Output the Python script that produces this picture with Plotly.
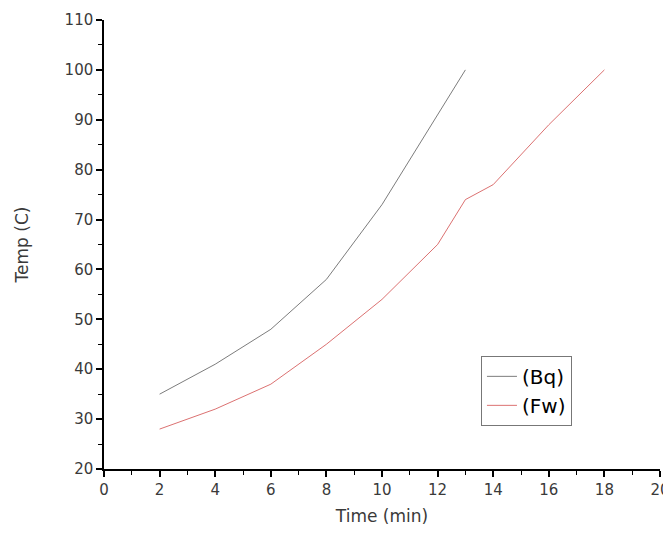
import plotly.graph_objects as go

# time (min) and temperature readings
time_bq = [2, 4, 6, 8, 10, 12, 13]
temp_bq = [35, 41, 48, 58, 73, 91, 100]

time_fw = [2, 4, 6, 8, 10, 12, 13, 14, 16, 18]
temp_fw = [28, 32, 37, 45, 54, 65, 74, 77, 89, 100]

x_ticks = [0, 2, 4, 6, 8, 10, 12, 14, 16, 18, 20]
y_ticks = [20, 30, 40, 50, 60, 70, 80, 90, 100, 110]

fig = go.Figure()
fig.add_trace(go.Scatter(x=time_bq, y=temp_bq, mode="lines", name="(Bq)",
                         line=dict(color="#444444", width=0.7)))
fig.add_trace(go.Scatter(x=time_fw, y=temp_fw, mode="lines", name="(Fw)",
                         line=dict(color="#cc3333", width=0.7)))

axis_font = dict(family="DejaVu Sans", size=15, color="#3a3a3a")
title_font = dict(family="DejaVu Sans", size=17, color="#3a3a3a")
fig.update_xaxes(range=[0, 20], tickvals=x_ticks, showgrid=False, zeroline=False,
                 showline=True, linecolor="black", linewidth=1.5,
                 ticks="outside", ticklen=6, tickwidth=1.5, tickcolor="black",
                 minor=dict(dtick=1, ticks="outside", ticklen=4, tickcolor="black", tickwidth=1.2),
                 tickfont=axis_font, ticklabeloverflow="allow", automargin=False,
                 title=dict(text="Time (min)", font=title_font, standoff=12))
fig.update_yaxes(range=[20, 110], tickvals=y_ticks, showgrid=False, zeroline=False,
                 showline=True, linecolor="black", linewidth=1.5,
                 ticks="outside", ticklen=6, tickwidth=1.5, tickcolor="black",
                 minor=dict(dtick=5, ticks="outside", ticklen=4, tickcolor="black", tickwidth=1.2),
                 tickfont=axis_font,
                 title=dict(text="Temp (C)", font=title_font, standoff=32))

fig.update_layout(
    width=655, height=522,
    margin=dict(l=96, r=3, t=10, b=61),
    plot_bgcolor="white", paper_bgcolor="white",
    legend=dict(x=0.678, y=0.252, xanchor="left", yanchor="top",
                bordercolor="#777777", borderwidth=1, bgcolor="white",
                font=dict(family="DejaVu Sans", size=20, color="black"),
                itemwidth=30, tracegroupgap=0),
)

fig.write_html("out.html")
